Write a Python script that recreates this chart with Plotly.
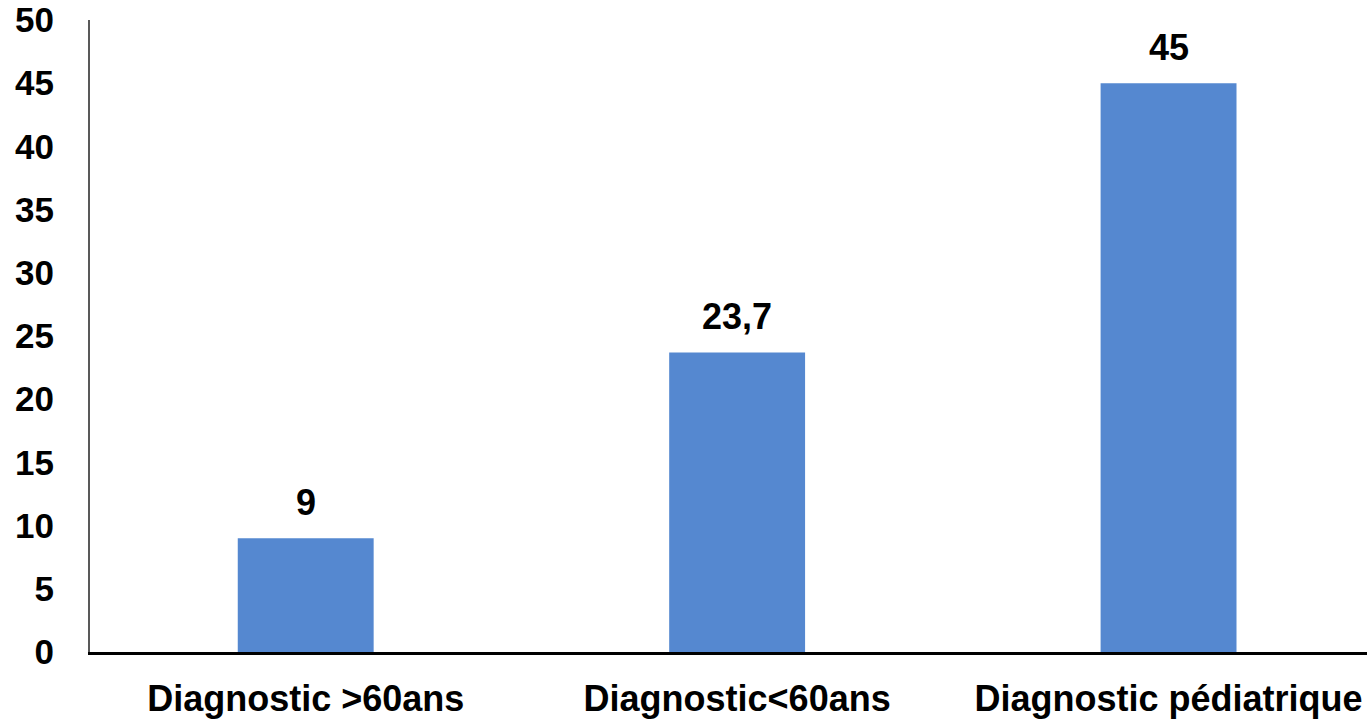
import plotly.graph_objects as go

categories = ["Diagnostic >60ans", "Diagnostic<60ans", "Diagnostic pédiatrique"]
values = [9, 23.7, 45]
value_labels = ["9", "23,7", "45"]
y_ticks = [0, 5, 10, 15, 20, 25, 30, 35, 40, 45, 50]

FONT = "Liberation Sans, Arial, sans-serif"
BLUE = "#5588D0"

fig = go.Figure()
fig.add_trace(go.Bar(
    x=categories, y=values, width=0.315,
    marker=dict(color=BLUE, line=dict(width=0)),
    hoverinfo="skip",
))

for c, v, t in zip(categories, values, value_labels):
    fig.add_annotation(x=c, y=v, text="<b>%s</b>" % t, showarrow=False,
                       yanchor="bottom", yshift=13,
                       font=dict(family=FONT, size=36, color="black"))

fig.update_layout(
    width=1367, height=722,
    margin=dict(l=90, r=0, t=20, b=70, autoexpand=False),
    paper_bgcolor="white", plot_bgcolor="white",
    showlegend=False,
    font=dict(family=FONT, color="black"),
)
fig.update_xaxes(
    range=[-0.5, 2.46], automargin=False,
    showgrid=False, zeroline=False,
    showline=True, linecolor="black", linewidth=3,
    ticks="", tickfont=dict(family=FONT, size=36, color="black", weight="bold"),
    ticklabelstandoff=13, ticklabeloverflow="allow",
)
fig.update_yaxes(
    range=[0, 50], automargin=False,
    tickvals=y_ticks, ticktext=[str(v) for v in y_ticks],
    showgrid=False, zeroline=False,
    showline=True, linecolor="#595959", linewidth=2,
    ticks="", tickfont=dict(family=FONT, size=35, color="black", weight="bold"),
    ticklabelstandoff=27, ticklabeloverflow="allow",
)

fig.write_html(
    "out.html",
    config={"displayModeBar": False},
    post_script="document.body.style.margin='0';document.body.style.overflow='hidden';",
)
